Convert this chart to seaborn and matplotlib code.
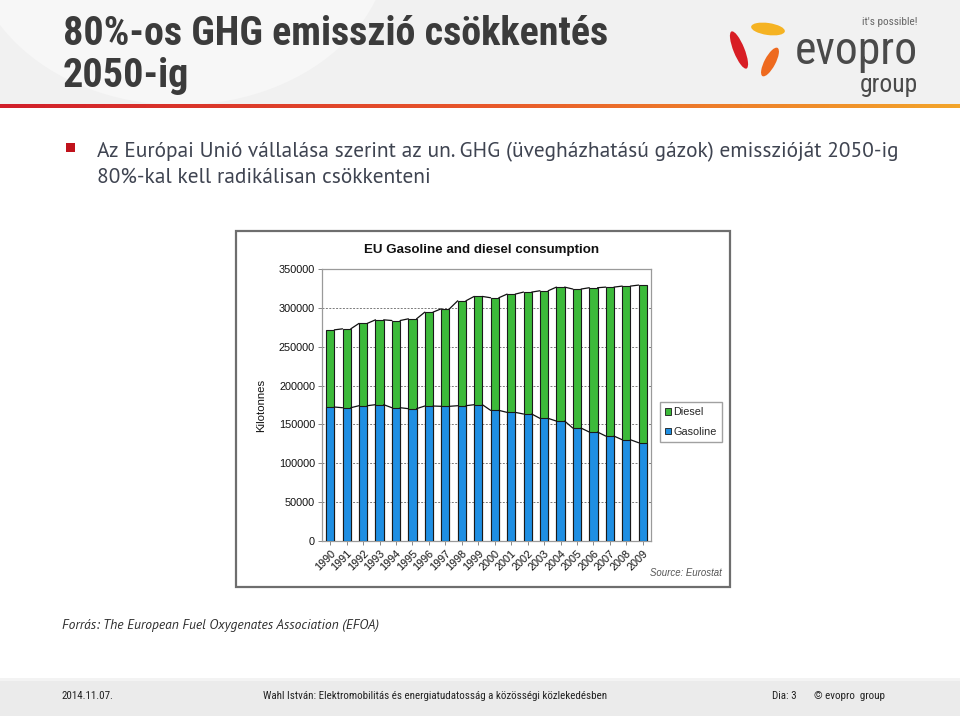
import numpy as np
import pandas as pd
import matplotlib
matplotlib.use("Agg")
import matplotlib.pyplot as plt
from matplotlib.patches import Rectangle, Ellipse, Patch
from matplotlib import font_manager as fm
import seaborn as sns

# ---------------- data ----------------
years = ["1990", "1991", "1992", "1993", "1994", "1995", "1996", "1997", "1998", "1999",
         "2000", "2001", "2002", "2003", "2004", "2005", "2006", "2007", "2008", "2009"]
gasoline = [172400, 171500, 174100, 175400, 171500, 170300, 173700, 173300, 174100, 175400,
            168100, 165500, 163400, 157800, 154300, 145300, 140200, 135000, 130300, 126400]
diesel = [99300, 101500, 105900, 109200, 112200, 115600, 120800, 125500, 135000, 139300,
          144900, 152200, 156900, 164200, 172400, 178900, 185700, 191700, 197700, 202900]
yticks = [0, 50000, 100000, 150000, 200000, 250000, 300000, 350000]

title_lines = ["80%-os GHG emisszió csökkentés", "2050-ig"]
bullet_lines = ["Az Európai Unió vállalása szerint az un. GHG (üvegházhatású gázok) emisszióját 2050-ig",
                "80%-kal kell radikálisan csökkenteni"]
chart_title = "EU Gasoline and diesel consumption"
source_note = "Forrás: The European Fuel Oxygenates Association (EFOA)"
footer_date = "2014.11.07."
footer_mid = "Wahl István: Elektromobilitás és energiatudatosság a közösségi közlekedésben"
footer_page = "Dia: 3"
footer_copy = "© evopro  group"

GREEN = "#3cba3a"
BLUE = "#1f8fe3"

sns.set_style("white")
plt.rcParams["font.family"] = ["Liberation Sans", "DejaVu Sans"]

available = {f.name for f in fm.fontManager.ttflist}


def pick(prefs):
    for p in prefs:
        if p in available:
            return [p, "DejaVu Sans"]
    return ["DejaVu Sans"]


COND = pick(["Roboto Condensed", "Open Sans Condensed", "PT Sans Narrow", "Fira Sans Condensed",
             "Archivo Narrow", "Liberation Sans Narrow", "Arial Narrow", "Asap Condensed",
             "Encode Sans Condensed", "IBM Plex Sans Condensed", "DejaVu Sans"])
MYRIAD = pick(["PT Sans", "Open Sans", "Noto Sans", "DejaVu Sans"])

W, H = 960, 716
fig = plt.figure(figsize=(W / 100, H / 100), dpi=100)
fig.patch.set_facecolor("white")
renderer = fig.canvas.get_renderer()

bg = fig.add_axes([0, 0, 1, 1], zorder=0)
bg.set_xlim(0, W)
bg.set_ylim(H, 0)
bg.axis("off")


def fit_text(x, y, s, width, size=10, **kw):
    t = bg.text(x, y, s, fontsize=size, **kw)
    w = t.get_window_extent(renderer=renderer).width
    if w > 0:
        t.set_fontsize(size * width / w)
    return t


# header
bg.add_patch(Rectangle((0, 0), W, 104, facecolor="#f1f1f1", edgecolor="none"))
bg.add_patch(Ellipse((180, -60), 420, 330, facecolor="#f7f7f7", edgecolor="none"))
grad = np.linspace(0, 1, 256).reshape(1, -1)
cmap = matplotlib.colors.LinearSegmentedColormap.from_list("g", ["#d11f2a", "#e8572a", "#f3a52a"])
bg.imshow(grad, cmap=cmap, extent=(0, W, 108, 104), aspect="auto", zorder=1)
bg.set_xlim(0, W)
bg.set_ylim(H, 0)

t1 = fit_text(63, 34, title_lines[0], 545, size=29, fontweight="bold", color="#3b3b3b",
              family=COND, va="center", ha="left")
bg.text(63, 76, title_lines[1], fontsize=t1.get_fontsize(), fontweight="bold", color="#3b3b3b",
        family=COND, va="center", ha="left")

# logo
bg.add_patch(Ellipse((739, 50), 11, 40, angle=-22, facecolor="#d81e25", edgecolor="none"))
bg.add_patch(Ellipse((770, 62), 11, 32, angle=28, facecolor="#ee6a1f", edgecolor="none"))
bg.add_patch(Ellipse((768, 29), 34, 12, angle=8, facecolor="#f5b323", edgecolor="none"))
fit_text(918, 51, "evopro", 123, size=27, color="#4a4a4a", family=COND, ha="right", va="center")
fit_text(918, 85, "group", 58, size=16, color="#4a4a4a", family=COND, ha="right", va="center")
fit_text(918, 22, "it's possible!", 56, size=7, color="#666666", family=COND, ha="right", va="center")

# bullet text
bg.add_patch(Rectangle((66, 143), 9, 9, facecolor="#c0121b", edgecolor="none"))
b1 = fit_text(97, 152, bullet_lines[0], 796, size=13, color="#3f4451", family=MYRIAD,
              fontweight="normal", ha="left", va="center")
bg.text(97, 177, bullet_lines[1], fontsize=b1.get_fontsize(), color="#3f4451", family=MYRIAD,
        fontweight="normal", ha="left", va="center")

# chart frame
bg.add_patch(Rectangle((236, 231), 494, 356, facecolor="white", edgecolor="#6e6e6e", linewidth=1.6))
fit_text(482, 250, chart_title, 236, size=9, fontweight="bold", color="#111111", ha="center", va="center")
bg.text(261, 405, "Kilotonnes", fontsize=8.2, color="#111111", rotation=90, ha="center", va="center")
fit_text(722, 573, "Source: Eurostat", 72, size=7, style="italic", color="#555555", ha="right", va="center")

# source note
fit_text(62, 626, source_note, 317, size=8.3, style="italic", color="#2e2e2e",
         family=MYRIAD, fontweight="normal", ha="left", va="center")

# footer
bg.add_patch(Rectangle((0, 678), W, 38, facecolor="#ebebeb", edgecolor="none"))
bg.add_patch(Rectangle((0, 678), W, 3, facecolor="#f3f3f3", edgecolor="none"))
f1 = fit_text(435, 696, footer_mid, 344, size=8, color="#222222", family=COND, ha="center", va="center")
fs = f1.get_fontsize()
bg.text(62, 696, footer_date, fontsize=fs, color="#222222", family=COND, ha="left", va="center")
bg.text(772, 696, footer_page, fontsize=fs, color="#222222", family=COND, ha="left", va="center")
bg.text(814, 696, footer_copy, fontsize=fs, color="#222222", family=COND, ha="left", va="center")

# ---------------- chart ----------------
L, R, T, B = 322, 651, 269, 541
ax = fig.add_axes([L / W, 1 - B / H, (R - L) / W, (B - T) / H], zorder=2)
df = pd.DataFrame({"year": years, "gasoline": gasoline, "diesel": diesel})
df["total"] = df["gasoline"] + df["diesel"]

sns.barplot(data=df, x="year", y="total", color=GREEN, saturation=1, width=0.5,
            edgecolor="#1a1a1a", linewidth=0.8, ax=ax, zorder=3)
sns.barplot(data=df, x="year", y="gasoline", color=BLUE, saturation=1, width=0.5,
            edgecolor="#1a1a1a", linewidth=0.8, ax=ax, zorder=4)

n = len(years)
tot_patches = ax.patches[:n]
gas_patches = ax.patches[n:2 * n]
for patches, vals in ((tot_patches, df["total"].tolist()), (gas_patches, df["gasoline"].tolist())):
    for i in range(n - 1):
        x0 = patches[i].get_x() + patches[i].get_width()
        x1 = patches[i + 1].get_x()
        ax.plot([x0, x1], [vals[i], vals[i + 1]], color="#111111", lw=0.9, zorder=5)

ax.set_xlim(-0.5, n - 0.5)
ax.set_ylim(0, 350000)
ax.set_yticks(yticks)
ax.set_yticklabels([str(v) for v in yticks], fontsize=7.8, color="#111111")
ax.set_xticks(range(n))
ax.set_xticklabels(years, rotation=45, ha="right", rotation_mode="anchor", fontsize=7.8, color="#111111")
ax.set_xlabel("")
ax.set_ylabel("")
ax.yaxis.grid(True, linestyle=(0, (2, 1.5)), color="#7a7a7a", linewidth=0.7)
ax.set_axisbelow(True)
ax.tick_params(axis="both", length=3, width=0.7, color="#888888", pad=2)
ax.tick_params(axis="y", left=True)
ax.tick_params(axis="x", bottom=True)
for s in ax.spines.values():
    s.set_color("#9a9a9a")
    s.set_linewidth(0.9)
ax.set_facecolor("white")

handles = [Patch(facecolor=GREEN, edgecolor="#1a1a1a", linewidth=0.6, label="Diesel"),
           Patch(facecolor=BLUE, edgecolor="#1a1a1a", linewidth=0.6, label="Gasoline")]
leg = fig.legend(handles=handles, loc="center left", bbox_to_anchor=(660 / W, 1 - 422 / H),
                 bbox_transform=fig.transFigure, fontsize=7.8, frameon=True, fancybox=False,
                 handlelength=0.55, handleheight=0.55, handletextpad=0.25, borderpad=0.45,
                 labelspacing=0.9, edgecolor="#8a8a8a", borderaxespad=0)
leg.get_frame().set_linewidth(1.0)
leg.set_zorder(5)

fig.savefig("out.png", dpi=100)
